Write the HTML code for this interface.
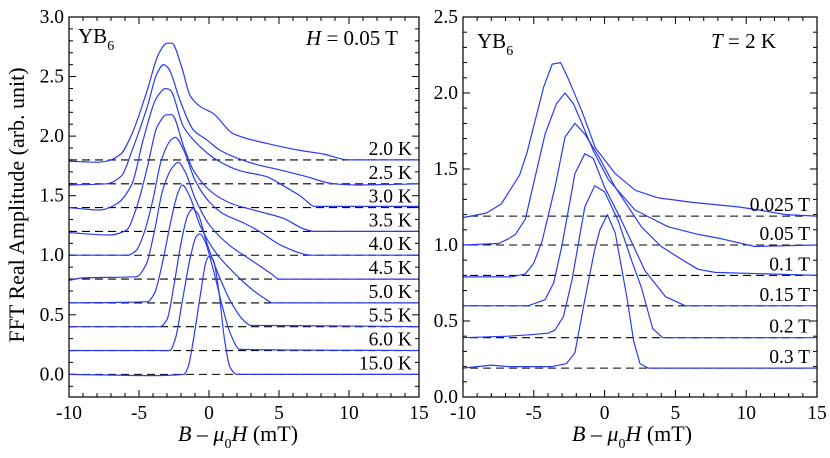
<!DOCTYPE html>
<html><head><meta charset="utf-8"><style>
body{margin:0;background:#fff}
svg{display:block}
text{font-family:"Liberation Serif",serif;fill:#000}
</style></head><body>
<svg id="chart" width="830" height="458" viewBox="0 0 830 458" xmlns="http://www.w3.org/2000/svg"></svg>
<script>
// ---- Left panel data (H = 0.05 T), temperatures
const leftLabels=["2.0 K","2.5 K","3.0 K","3.5 K","4.0 K","4.5 K","5.0 K","5.5 K","6.0 K","15.0 K"];
const leftBaselines=[1.8,1.6,1.4,1.2,1.0,0.8,0.6,0.4,0.2,0.0];
const leftX0=[-10,-8,-7.3,-6.3,-5.5,-4.4,-3.6,-3.0,-2.66,-1.95,-1.35,-0.64,0.3,1.73,4.1,6.5,8.15,10,15];
const leftY0=[1.79,1.78,1.79,1.85,2.02,2.39,2.69,2.78,2.78,2.58,2.34,2.25,2.19,2.02,1.94,1.88,1.85,1.8,1.8];
const leftX1=[-10,-7.3,-6.3,-5.4,-4.4,-3.7,-3.25,-2.9,-2.07,-1.1,-0.17,0.8,3.16,5.3,6.96,8.9,10.5,15];
const leftY1=[1.59,1.6,1.66,1.91,2.25,2.53,2.6,2.57,2.3,2.05,1.97,1.88,1.77,1.71,1.66,1.6,1.59,1.6];
const leftX2=[-10,-7.8,-6.6,-5.5,-4.7,-3.7,-3.1,-2.8,-1.83,-0.88,0.55,2.2,4.1,5.5,6.5,7.6,15];
const leftY2=[1.4,1.38,1.43,1.6,1.97,2.33,2.4,2.39,2.08,1.94,1.8,1.71,1.66,1.57,1.5,1.41,1.41];
const leftX3=[-10,-7.1,-5.9,-5.15,-4.4,-3.7,-3.0,-2.66,-1.8,-1.1,0.3,1.7,3.5,5.3,6.8,7.5,15];
const leftY3=[1.19,1.17,1.21,1.41,1.74,2.08,2.18,2.18,1.91,1.71,1.52,1.43,1.37,1.31,1.22,1.2,1.2];
const leftX4=[-10,-5.8,-5.2,-4.6,-4.0,-3.4,-2.7,-2.4,-1.8,-1.0,0.0,1.0,2.5,3.6,5.2,7.4,15];
const leftY4=[1.0,1.0,1.04,1.2,1.47,1.8,1.97,1.99,1.88,1.63,1.45,1.35,1.27,1.2,1.08,1.0,1.0];
const leftX5=[-10,-9,-5.2,-4.5,-3.9,-3.3,-2.6,-2.2,-1.7,-1.0,0.0,1.5,3.0,4.5,5.0,15];
const leftY5=[0.79,0.81,0.82,0.92,1.2,1.55,1.74,1.78,1.7,1.48,1.26,1.08,0.96,0.84,0.8,0.8];
const leftX6=[-10,-4.4,-3.9,-3.3,-2.7,-2.2,-1.9,-1.4,-0.6,0.5,1.8,3.0,4.2,4.5,15];
const leftY6=[0.6,0.61,0.68,0.95,1.3,1.53,1.59,1.5,1.24,1.02,0.85,0.72,0.62,0.6,0.6];
const leftX7=[-10,-3.5,-3.0,-2.5,-2.0,-1.5,-1.16,-0.8,-0.2,0.6,1.6,2.5,3.0,4.5,15];
const leftY7=[0.4,0.4,0.46,0.75,1.1,1.34,1.39,1.35,1.12,0.86,0.6,0.45,0.41,0.41,0.4];
const leftX8=[-10,-2.8,-2.4,-1.9,-1.3,-0.9,-0.64,-0.3,0.3,1.0,1.5,2.2,15];
const leftY8=[0.2,0.2,0.3,0.62,1.0,1.16,1.18,1.12,0.88,0.55,0.35,0.21,0.2];
const leftX9=[-10,-4,-1.8,-1.5,-1.1,-0.6,-0.2,0.0,0.3,0.7,1.1,1.5,2.0,15];
const leftY9=[0.0,-0.01,0.0,0.06,0.3,0.68,0.95,0.99,0.96,0.7,0.3,0.06,0.0,0.0];
const leftXs=[leftX0,leftX1,leftX2,leftX3,leftX4,leftX5,leftX6,leftX7,leftX8,leftX9];
const leftYs=[leftY0,leftY1,leftY2,leftY3,leftY4,leftY5,leftY6,leftY7,leftY8,leftY9];
const leftYTicks=["0.0","0.5","1.0","1.5","2.0","2.5","3.0"];
const xTicks=["-10","-5","0","5","10","15"];
// ---- Right panel data (T = 2 K), fields
const rightLabels=["0.025 T","0.05 T","0.1 T","0.15 T","0.2 T","0.3 T"];
const rightBaselines=[1.19,1.0,0.8,0.6,0.39,0.19];
const rightX0=[-10,-8.36,-7.3,-6.0,-5.5,-4.3,-3.7,-3.1,-2.55,-1.6,-0.66,0.75,2.17,3.8,6.2,9.5,10.9,12.8,15];
const rightY0=[1.18,1.21,1.27,1.46,1.6,2.04,2.19,2.2,2.09,1.88,1.64,1.47,1.36,1.31,1.28,1.25,1.23,1.2,1.19];
const rightX1=[-10,-7.5,-6.8,-6.3,-5.6,-4.9,-4.2,-3.4,-2.8,-2.2,-1.6,-0.8,0.27,2.15,4.5,6.6,8.3,10.6,15];
const rightY1=[1.0,1.01,1.04,1.07,1.17,1.45,1.73,1.93,2.0,1.93,1.8,1.62,1.43,1.23,1.12,1.07,1.04,0.99,1.0];
const rightX2=[-10,-6.6,-5.6,-5.0,-4.4,-3.5,-2.8,-2.1,-1.4,-0.4,0.75,2.6,4.0,5.7,6.6,7.8,15];
const rightY2=[0.79,0.79,0.81,0.88,1.03,1.38,1.71,1.8,1.73,1.58,1.38,1.12,0.99,0.89,0.84,0.82,0.8];
const rightX3=[-10,-5.4,-4.2,-3.6,-3.0,-2.1,-1.4,-0.8,0.0,1.2,2.85,4.3,5.7,15];
const rightY3=[0.6,0.6,0.64,0.75,1.0,1.47,1.6,1.57,1.38,1.16,0.83,0.66,0.6,0.6];
const rightX4=[-10,-6.8,-5.2,-4.0,-3.5,-2.9,-2.3,-1.4,-0.7,0.0,0.96,1.9,2.6,3.4,4.1,15];
const rightY4=[0.39,0.4,0.41,0.42,0.44,0.53,0.77,1.25,1.39,1.35,1.16,0.9,0.72,0.45,0.39,0.39];
const rightX5=[-10,-8,-6.8,-3.7,-2.7,-2.1,-1.4,-0.7,-0.33,0.2,0.75,1.6,2.05,2.5,3.1,15];
const rightY5=[0.19,0.21,0.2,0.2,0.22,0.29,0.64,0.97,1.1,1.2,1.08,0.64,0.37,0.22,0.19,0.19];
const rightXs=[rightX0,rightX1,rightX2,rightX3,rightX4,rightX5];
const rightYs=[rightY0,rightY1,rightY2,rightY3,rightY4,rightY5];
const rightYTicks=["0.0","0.5","1.0","1.5","2.0","2.5"];

const NS="http://www.w3.org/2000/svg";
const svg=document.getElementById('chart');
function mk(tag,attrs,parent){const e=document.createElementNS(NS,tag);for(const k in attrs)e.setAttribute(k,attrs[k]);(parent||svg).appendChild(e);return e;}

function smoothPath(P){
  const n=P.length, dx=[], m=[], t=[];
  for(let i=0;i<n-1;i++){dx[i]=P[i+1][0]-P[i][0];m[i]=(P[i+1][1]-P[i][1])/dx[i];}
  t[0]=m[0];t[n-1]=m[n-2];
  for(let i=1;i<n-1;i++){
    if(m[i-1]*m[i]<=0)t[i]=0;
    else{const w1=2*dx[i]+dx[i-1],w2=dx[i]+2*dx[i-1];t[i]=(w1+w2)/(w1/m[i-1]+w2/m[i]);}
  }
  let d='M'+P[0][0].toFixed(1)+','+P[0][1].toFixed(1);
  for(let i=0;i<n-1;i++){
    const h=dx[i]/3;
    d+='C'+(P[i][0]+h).toFixed(1)+','+(P[i][1]+t[i]*h).toFixed(1)+' '+(P[i+1][0]-h).toFixed(1)+','+(P[i+1][1]-t[i+1]*h).toFixed(1)+' '+P[i+1][0].toFixed(1)+','+P[i+1][1].toFixed(1);
  }
  return d;
}

function panel(o){
  const g=mk('g',{});
  
  
  const sx=v=>o.x0+(v+10)/25*(o.x1-o.x0);
  const sy=v=>o.yb-(v-o.ymin)/(o.ymax-o.ymin)*(o.yb-o.yt);
  for(let v=-10;v<=15;v+=1){
    const major=v%5===0, L=major?7:4;
    mk('line',{x1:sx(v),x2:sx(v),y1:o.yb,y2:o.yb-L,stroke:'#000','stroke-width':1},g);
    mk('line',{x1:sx(v),x2:sx(v),y1:o.yt,y2:o.yt+L,stroke:'#000','stroke-width':1},g);
  }
  for(let i=0;i<xTicks.length;i++){
    const t=mk('text',{x:sx(+xTicks[i]),y:o.yb+22,'font-size':19.5,'text-anchor':'middle'},g);
    t.textContent=xTicks[i];
    
    
  }
  for(let k=Math.ceil(o.ymin*10);k<=o.ymax*10+0.01;k++){
    const v=k/10, major=k%5===0, L=major?7:4;
    mk('line',{x1:o.x0,x2:o.x0+L,y1:sy(v),y2:sy(v),stroke:'#000','stroke-width':1},g);
    mk('line',{x1:o.x1,x2:o.x1-L,y1:sy(v),y2:sy(v),stroke:'#000','stroke-width':1},g);
  }
  for(let i=0;i<o.yticks.length;i++){
    const t=mk('text',{x:o.x0-5,y:sy(+o.yticks[i])+6,'font-size':19.5,'text-anchor':'end'},g);
    t.textContent=o.yticks[i];
    
    
  }
  for(let i=0;i<o.xs.length;i++){
    const dl=mk('line',{x1:sx(o.dash[0]),x2:sx(o.dash[1]),y1:sy(o.base[i]),y2:sy(o.base[i]),stroke:'#000','stroke-width':1.1,'stroke-dasharray':'8,5'},g);
    
    
    const P=o.xs[i].map((x,j)=>[sx(x),sy(o.ys[i][j])]);
    const d=o.smooth?smoothPath(P):P.map((p,j)=>(j?'L':'M')+p[0].toFixed(1)+','+p[1].toFixed(1)).join('');
    const p=mk('path',{d:d,fill:'none',stroke:'#2b3bf0','stroke-width':1.2,'stroke-linejoin':'round'},g);
    
    
    const t=mk('text',{x:o.labelX,y:sy(o.base[i])-5,'font-size':19.5,'text-anchor':'end'},g);
    t.textContent=o.labels[i];
    
    
  }
  const box=mk('rect',{x:o.x0,y:o.yt,width:o.x1-o.x0,height:o.yb-o.yt,fill:'none',stroke:'#000','stroke-width':1.2},g);
  
  
  return {g,sx,sy};
}

panel({name:'left-panel',x0:69,x1:419,yt:17,yb:397,ymin:-0.19,ymax:3.0,xs:leftXs,ys:leftYs,base:leftBaselines,labels:leftLabels,yticks:leftYTicks,labelX:412,dash:[-10,15],smooth:true});
panel({name:'right-panel',x0:463,x1:817,yt:17,yb:397,ymin:0,ymax:2.5,xs:rightXs,ys:rightYs,base:rightBaselines,labels:rightLabels,yticks:rightYTicks,labelX:810,dash:[-9.5,14.3],smooth:false});

function txt(html,attrs,name){const t=mk('text',attrs);t.innerHTML=html;return t;}
txt('YB<tspan dy="7" font-size="14">6</tspan>',{x:78,y:43,'font-size':21},'left-sample-label');
txt('<tspan font-style="italic">H</tspan> = 0.05 T',{x:398,y:45,'font-size':21,'text-anchor':'end'},'left-field-label');
txt('YB<tspan dy="7" font-size="14">6</tspan>',{x:477,y:48,'font-size':21},'right-sample-label');
txt('<tspan font-style="italic">T</tspan> = 2 K',{x:776,y:48,'font-size':21,'text-anchor':'end'},'right-temp-label');
txt('<tspan font-style="italic">B</tspan> – <tspan font-style="italic">μ</tspan><tspan dy="7" font-size="14">0</tspan><tspan dy="-7" font-style="italic">H</tspan> (mT)',{x:238,y:441,'font-size':22,'text-anchor':'middle'},'left-x-axis-title');
txt('<tspan font-style="italic">B</tspan> – <tspan font-style="italic">μ</tspan><tspan dy="7" font-size="14">0</tspan><tspan dy="-7" font-style="italic">H</tspan> (mT)',{x:632,y:441,'font-size':22,'text-anchor':'middle'},'right-x-axis-title');
txt('FFT Real Amplitude (arb. unit)',{x:0,y:0,'font-size':22,'text-anchor':'middle',transform:'translate(24,205) rotate(-90)'},'y-axis-title');
</script>
</body></html>
